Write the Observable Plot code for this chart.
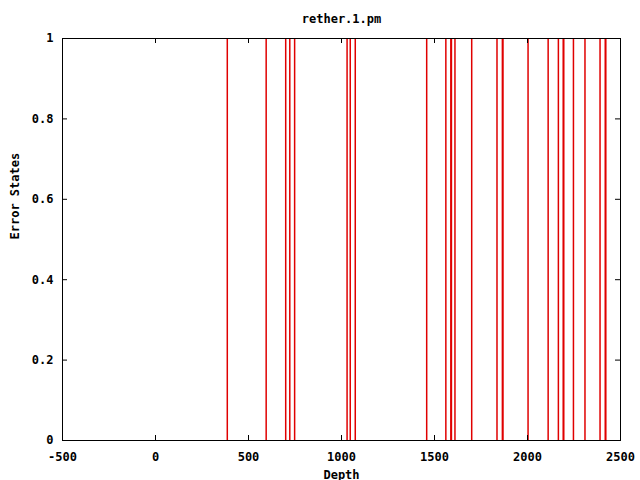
<!DOCTYPE html>
<html><head><meta charset="utf-8">
<script src="https://cdn.jsdelivr.net/npm/d3@7"></script>
<script src="https://cdn.jsdelivr.net/npm/@observablehq/plot@0.6"></script>
<style>html,body{margin:0;padding:0;background:#fff}</style>
</head><body><div id="chart"></div>
<script>
const title = "rether.1.pm";
const xLabel = "Depth";
const yLabel = "Error States";
const depths = [386, 595, 700, 722, 748, 1030, 1047, 1074, 1458, 1561, 1588, 1591, 1610, 1700, 1836, 1865, 1868, 2003, 2111, 2166, 2192, 2195, 2247, 2309, 2390, 2418, 2421];
const errorStates = [1, 1, 1, 1, 1, 1, 1, 1, 1, 1, 1, 1, 1, 1, 1, 1, 1, 1, 1, 1, 1, 1, 1, 1, 1, 1, 1];
const xTicks = [-500, 0, 500, 1000, 1500, 2000, 2500];
const xTickLabels = ["-500", "0", "500", "1000", "1500", "2000", "2500"];
const yTicks = [0, 0.2, 0.4, 0.6, 0.8, 1];
const yTickLabels = ["0", "0.2", "0.4", "0.6", "0.8", "1"];

const data = depths.map((d, i) => ({depth: d, state: errorStates[i]}));
const W = 640, H = 480, mL = 62, mR = 20, mT = 38, mB = 40;
const pw = W - mL - mR, ph = H - mT - mB;
const tick = 5;

const chart = Plot.plot({
  width: W, height: H,
  marginLeft: mL, marginRight: mR, marginTop: mT, marginBottom: mB,
  style: {fontFamily: "DejaVu Sans Mono", fontSize: "12px", fontWeight: "bold", background: "white", color: "black"},
  x: {domain: [-500, 2500]},
  y: {domain: [0, 1]},
  marks: [
    Plot.ruleX(data, {x: "depth", y: "state", stroke: "#e00000", strokeWidth: 1.5}),
    Plot.gridX(xTicks, {insetTop: ph - tick, stroke: "black", strokeOpacity: 1}),
    Plot.gridX(xTicks, {insetBottom: ph - tick, stroke: "black", strokeOpacity: 1}),
    Plot.gridY(yTicks, {insetRight: pw - tick, stroke: "black", strokeOpacity: 1}),
    Plot.gridY(yTicks, {insetLeft: pw - tick, stroke: "black", strokeOpacity: 1}),
    Plot.axisX(xTicks, {tickSize: 0, tickPadding: 12, label: null, tickFormat: (d, i) => xTickLabels[i]}),
    Plot.axisY(yTicks, {tickSize: 0, tickPadding: 9, label: null, tickFormat: (d, i) => yTickLabels[i]}),
    Plot.frame({stroke: "black"}),
    Plot.text([title], {frameAnchor: "top", dy: -24, text: d => d, fontWeight: "bold"}),
    Plot.text([xLabel], {frameAnchor: "bottom", dy: 38, text: d => d, fontWeight: "bold"}),
    Plot.text([yLabel], {frameAnchor: "left", dx: -47, rotate: -90, text: d => d, fontWeight: "bold"})
  ]
});
document.getElementById("chart").append(chart);
</script>
</body></html>
